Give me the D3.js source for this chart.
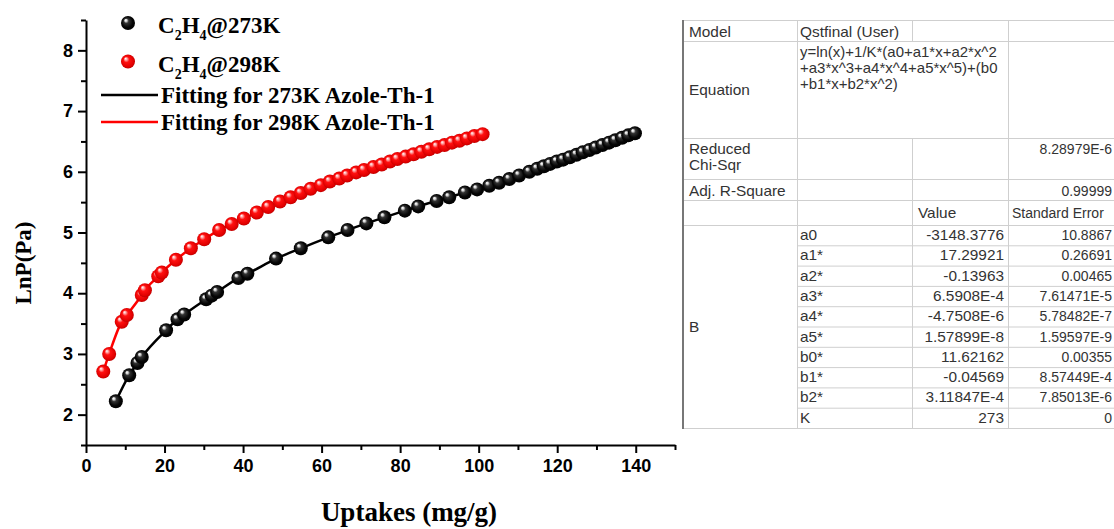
<!DOCTYPE html>
<html>
<head>
<meta charset="utf-8">
<script src="https://cdn.jsdelivr.net/npm/d3@7"></script>
<style>
	body { margin: 0; background: #fff; }
	svg { display: block; }
</style>
</head>
<body>
<svg id="chart"></svg>
<script>
const W = 1114;
const H = 529;

// C2H4 isotherm at 273 K: uptake (mg/g) vs ln P
const x273 = [7.6, 11.0, 13.1, 14.2, 20.4, 23.3, 25.0, 30.6, 32.0, 33.4, 38.8, 41.1, 48.4, 54.7, 61.7, 66.6, 71.4, 76.0, 81.2, 84.6, 89.3, 92.5, 96.5, 99.6, 102.7, 105.2, 107.8, 110.3, 112.9, 114.9, 116.6, 118.2, 119.9, 121.5, 123.2, 124.9, 126.5, 128.2, 129.8, 131.5, 133.2, 134.8, 136.5, 138.1, 139.8];
const y273 = [2.22, 2.65, 2.85, 2.95, 3.39, 3.57, 3.65, 3.90, 3.96, 4.02, 4.25, 4.32, 4.57, 4.74, 4.92, 5.04, 5.15, 5.25, 5.36, 5.43, 5.52, 5.58, 5.66, 5.71, 5.77, 5.82, 5.88, 5.94, 6.00, 6.05, 6.09, 6.13, 6.17, 6.20, 6.24, 6.28, 6.32, 6.36, 6.40, 6.44, 6.48, 6.52, 6.56, 6.60, 6.635];

// C2H4 isotherm at 298 K
const x298 = [4.4, 5.9, 9.1, 10.4, 14.2, 15.0, 18.4, 19.3, 22.9, 26.7, 30.1, 33.9, 37.1, 40.2, 43.5, 46.4, 49.4, 52.1, 54.7, 57.2, 59.8, 62.1, 64.5, 66.5, 68.8, 70.8, 73.2, 75.3, 77.4, 79.3, 81.4, 83.4, 85.4, 87.4, 89.4, 91.3, 93.2, 95.1, 97.0, 98.9, 101.0];
const y298 = [2.71, 3.00, 3.53, 3.64, 3.97, 4.05, 4.28, 4.34, 4.55, 4.74, 4.89, 5.04, 5.14, 5.23, 5.33, 5.42, 5.51, 5.58, 5.65, 5.72, 5.78, 5.84, 5.89, 5.94, 5.99, 6.03, 6.08, 6.12, 6.17, 6.21, 6.25, 6.29, 6.33, 6.37, 6.41, 6.44, 6.48, 6.51, 6.55, 6.59, 6.62];

const xTicks = [0, 20, 40, 60, 80, 100, 120, 140];
const xMinor = [10, 30, 50, 70, 90, 110, 130, 150];
const yTicks = [2, 3, 4, 5, 6, 7, 8];
const yMinor = [1.5, 2.5, 3.5, 4.5, 5.5, 6.5, 7.5, 8.5];

const fitLabels = ['Fitting for 273K Azole-Th-1', 'Fitting for 298K Azole-Th-1'];
const seriesTemps = ['273K', '298K'];

// fit report table
const tableModel = 'Qstfinal (User)';
const tableEquation = ['y=ln(x)+1/K*(a0+a1*x+a2*x^2', '+a3*x^3+a4*x^4+a5*x^5)+(b0', '+b1*x+b2*x^2)'];
const tableChi = '8.28979E-6';
const tableR2 = '0.99999';
const tableParams = ['a0', 'a1*', 'a2*', 'a3*', 'a4*', 'a5*', 'b0*', 'b1*', 'b2*', 'K'];
const tableValues = ['-3148.3776', '17.29921', '-0.13963', '6.5908E-4', '-4.7508E-6', '1.57899E-8', '11.62162', '-0.04569', '3.11847E-4', '273'];
const tableErrors = ['10.8867', '0.26691', '0.00465', '7.61471E-5', '5.78482E-7', '1.59597E-9', '0.00355', '8.57449E-4', '7.85013E-6', '0'];

const series = [
	{ xs: x273, ys: y273, color: '#000', grad: 'ballBlack' },
	{ xs: x298, ys: y298, color: '#f00', grad: 'ballRed' }
];

const SERIF = '"Liberation Serif", "DejaVu Serif", serif';
const SANS = '"Liberation Sans", Arial, sans-serif';

const svg = d3.select('#chart').attr('width', W).attr('height', H);
svg.append('rect').attr('width', W).attr('height', H).attr('fill', '#fff');

const defs = svg.append('defs');

function addBall(id, stops) {
	const g = defs.append('radialGradient')
		.attr('id', id)
		.attr('cx', '50%').attr('cy', '50%').attr('r', '55%')
		.attr('fx', '32%').attr('fy', '28%');
	stops.forEach(s => g.append('stop').attr('offset', s[0]).attr('stop-color', s[1]));
}
addBall('ballBlack', [['0%', '#ffffff'], ['14%', '#d8d8d8'], ['32%', '#333'], ['70%', '#050505'], ['100%', '#000']]);
addBall('ballRed', [['0%', '#ffffff'], ['15%', '#ffb0b0'], ['38%', '#ff1010'], ['80%', '#e00000'], ['100%', '#b00000']]);

const x = d3.scaleLinear().domain([0, 150]).range([86, 675]);
const y = d3.scaleLinear().domain([1.5, 8.5]).range([445, 20]);

// axes
function styleAxis(g) {
	g.select('.domain').attr('stroke', '#000').attr('stroke-width', 2);
	g.selectAll('.tick line').attr('stroke', '#000').attr('stroke-width', 2);
	g.selectAll('.tick text')
		.attr('fill', '#000')
		.style('font-family', SANS)
		.style('font-weight', 'bold')
		.style('font-size', '18px');
}

svg.append('g')
	.attr('transform', `translate(0,${y.range()[0]})`)
	.call(d3.axisBottom(x).tickValues(xMinor).tickSize(5).tickFormat(''))
	.call(g => g.select('.domain').remove())
	.call(styleAxis);

svg.append('g')
	.attr('transform', `translate(0,${y.range()[0]})`)
	.call(d3.axisBottom(x).tickValues(xTicks).tickSize(8).tickPadding(6).tickSizeOuter(0))
	.call(styleAxis);

svg.append('g')
	.attr('transform', `translate(${x.range()[0]},0)`)
	.call(d3.axisLeft(y).tickValues(yMinor).tickSize(5).tickFormat(''))
	.call(g => g.select('.domain').remove())
	.call(styleAxis);

svg.append('g')
	.attr('transform', `translate(${x.range()[0]},0)`)
	.call(d3.axisLeft(y).tickValues(yTicks).tickFormat(d3.format('d')).tickSize(8).tickPadding(5).tickSizeOuter(0))
	.call(styleAxis);

svg.append('text')
	.attr('transform', 'translate(31,263) rotate(-90)')
	.attr('text-anchor', 'middle')
	.style('font-family', SERIF)
	.style('font-weight', 'bold')
	.style('font-size', '23px')
	.text('LnP(Pa)');

svg.append('text')
	.attr('x', 409)
	.attr('y', 521)
	.attr('text-anchor', 'middle')
	.style('font-family', SERIF)
	.style('font-weight', 'bold')
	.style('font-size', '27px')
	.text('Uptakes (mg/g)');

// fitted curves then symbols
const line = d3.line()
	.x(d => x(d[0]))
	.y(d => y(d[1]))
	.curve(d3.curveMonotoneX);

series.forEach(s => {
	const pts = s.xs.map((v, i) => [v, s.ys[i]]);
	svg.append('path')
		.datum(pts)
		.attr('d', line)
		.attr('fill', 'none')
		.attr('stroke', s.color)
		.attr('stroke-width', 2.5);
});

series.slice().reverse().forEach(s => {
	const pts = s.xs.map((v, i) => [v, s.ys[i]]);
	svg.append('g')
		.selectAll('circle')
		.data(pts)
		.join('circle')
		.attr('cx', d => x(d[0]))
		.attr('cy', d => y(d[1]))
		.attr('r', 7)
		.attr('fill', `url(#${s.grad})`);
});

// legend
const $legend = svg.append('g').style('font-family', SERIF).style('font-weight', 'bold');

series.forEach((s, i) => {
	const cy = 23 + i * 38.5;
	$legend.append('circle')
		.attr('cx', 128).attr('cy', cy).attr('r', 7)
		.attr('fill', `url(#${s.grad})`);
	const t = $legend.append('text')
		.attr('x', 158).attr('y', cy + 10)
		.style('font-size', '23px');
	t.append('tspan').text('C');
	t.append('tspan').attr('dy', 7).style('font-size', '14px').text('2');
	t.append('tspan').attr('dy', -7).text('H');
	t.append('tspan').attr('dy', 7).style('font-size', '14px').text('4');
	t.append('tspan').attr('dy', -7).text('@' + seriesTemps[i]);
});

series.forEach((s, i) => {
	const ly = 95 + i * 27;
	$legend.append('line')
		.attr('x1', 101).attr('x2', 158)
		.attr('y1', ly).attr('y2', ly)
		.attr('stroke', s.color)
		.attr('stroke-width', 2.5);
	$legend.append('text')
		.attr('x', 161).attr('y', ly + 8)
		.style('font-size', '23px')
		.text(fitLabels[i]);
});

// fit report table
const colX = [683, 797, 912, 1008, 1130];
const rowY = [20, 41, 138, 179, 200, 225];
const ROW_H = 20.3;
const tableBottom = rowY[5] + tableParams.length * ROW_H;

const $table = svg.append('g')
	.style('font-family', SANS)
	.style('font-size', '14px')
	.attr('fill', '#333');

const GRID = '#cfcfcf';

function hLine(x1, x2, yy) {
	$table.append('line')
		.attr('x1', x1).attr('x2', x2)
		.attr('y1', yy).attr('y2', yy)
		.attr('stroke', GRID).attr('stroke-width', 1);
}
function vLine(xx, y1, y2) {
	$table.append('line')
		.attr('x1', xx).attr('x2', xx)
		.attr('y1', y1).attr('y2', y2)
		.attr('stroke', GRID).attr('stroke-width', 1);
}

rowY.forEach(r => hLine(colX[0], W, r + 0.5));
tableParams.forEach((p, i) => hLine(colX[1], W, rowY[5] + (i + 1) * ROW_H + 0.5));
hLine(colX[0], W, tableBottom + 0.5);

vLine(colX[1] + 0.5, rowY[0], tableBottom);
vLine(colX[2] + 0.5, rowY[0], rowY[1]);
vLine(colX[2] + 0.5, rowY[2], tableBottom);
vLine(colX[3] + 0.5, rowY[0], tableBottom);

$table.append('line')
	.attr('x1', colX[0]).attr('x2', colX[0])
	.attr('y1', rowY[0]).attr('y2', tableBottom + 1)
	.attr('stroke', '#777').attr('stroke-width', 2);

// the report text is wide and squat, so stretch it sideways
function cell(txt, xx, yy, anchor, sx) {
	$table.append('text')
		.attr('transform', `translate(${xx},${yy}) scale(${sx || 1.1},1)`)
		.attr('text-anchor', anchor || 'start')
		.text(txt);
}

const PAD = 6;
const RIGHT = 1112;

cell('Model', colX[0] + PAD, 37);
cell(tableModel, colX[1] + 3, 37);

cell('Equation', colX[0] + PAD, 95);
tableEquation.forEach((t, i) => cell(t, colX[1] + 3, 57 + i * 16, 'start', 1.07));

cell('Reduced', colX[0] + PAD, 154);
cell('Chi-Sqr', colX[0] + PAD, 170);
cell(tableChi, RIGHT, 154, 'end', 1.0);

cell('Adj. R-Square', colX[0] + PAD, 196);
cell(tableR2, RIGHT, 196, 'end', 1.0);

cell('Value', colX[2] + PAD, 218);
cell('Standard Error', colX[3] + 4, 218, 'start', 1.0);

cell('B', colX[0] + PAD, (rowY[5] + tableBottom) / 2 + 5);

tableParams.forEach((p, i) => {
	const yy = rowY[5] + i * ROW_H + 15;
	cell(p, colX[1] + 3, yy);
	cell(tableValues[i], colX[3] - 4, yy, 'end');
	cell(tableErrors[i], RIGHT, yy, 'end', 1.0);
});
</script>
</body>
</html>
